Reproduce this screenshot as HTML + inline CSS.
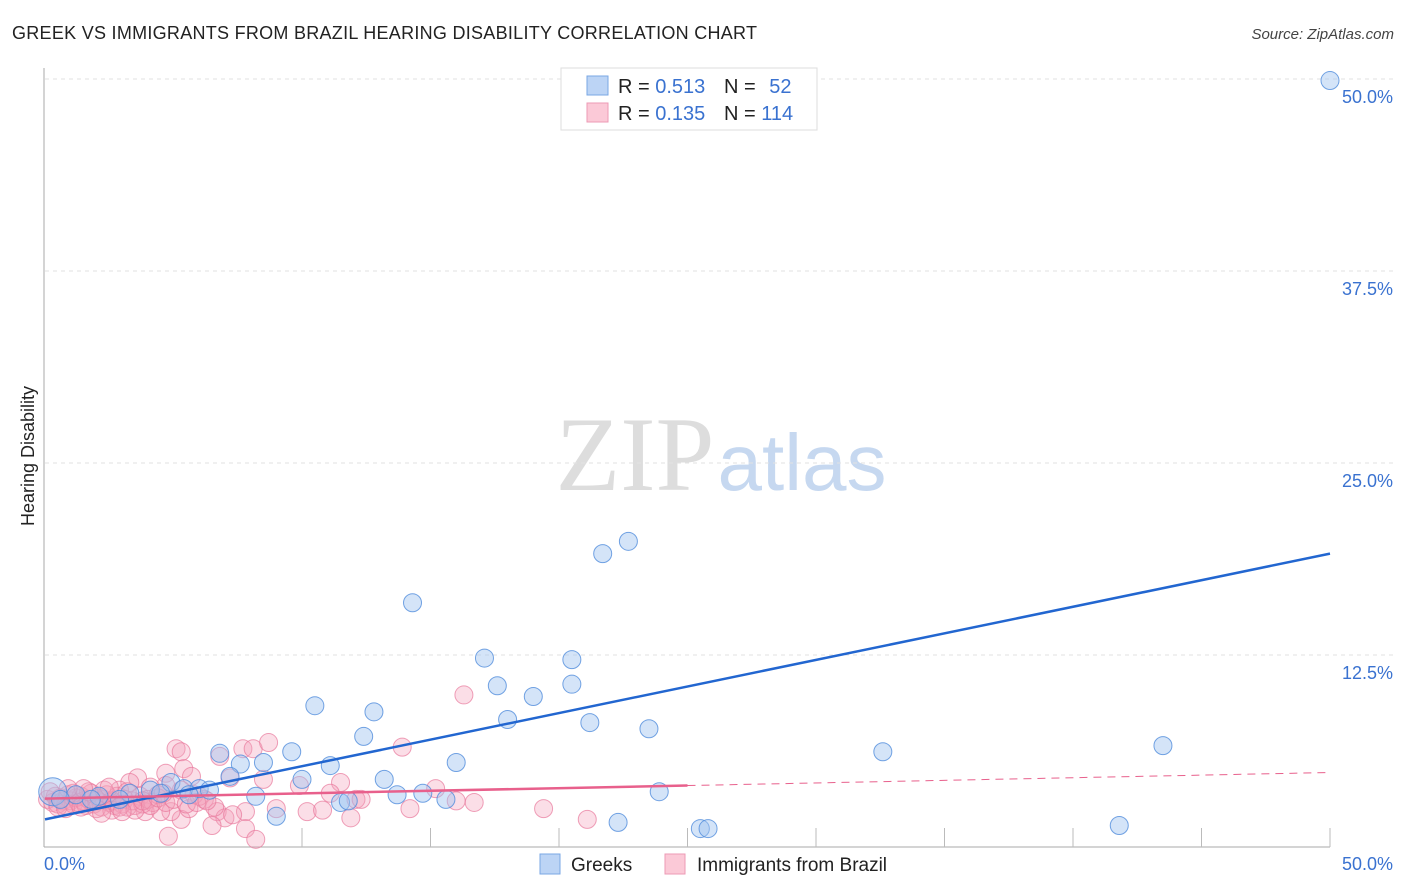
<!DOCTYPE html>
<html><head><meta charset="utf-8"><style>
body{margin:0;background:#fff;font-family:"Liberation Sans",sans-serif;}
svg{display:block}
</style></head><body>
<svg width="1406" height="892" viewBox="0 0 1406 892">
<text x="12" y="39" font-size="18" fill="#222" textLength="745">GREEK VS IMMIGRANTS FROM BRAZIL HEARING DISABILITY CORRELATION CHART</text>
<text x="1394" y="39" font-size="15" fill="#444" font-style="italic" text-anchor="end">Source: ZipAtlas.com</text>
<text x="34" y="456" font-size="18" fill="#222" text-anchor="middle" transform="rotate(-90 34 456)">Hearing Disability</text>
<g>
<text x="635" y="490" font-family="Liberation Serif,serif" font-size="106" fill="#ddd" text-anchor="middle">ZIP</text>
<text x="802" y="490" font-size="80" fill="#c6d8f0" text-anchor="middle">atlas</text>
</g>
<g id="grid"></g>
<g id="axes"></g>
<g id="pts"></g>
<g id="lines"></g>
<g>
<rect x="561" y="68" width="256" height="62" fill="#fff" stroke="#ddd"/>
<rect x="587" y="76" width="21" height="19" fill="#bcd4f5" stroke="#7aa7e4"/>
<rect x="587" y="103" width="21" height="19" fill="#fbc9d7" stroke="#ec9ab4"/>
<text x="618" y="93" font-size="20" fill="#222">R = <tspan fill="#3a72d0">0.513</tspan></text>
<text x="724" y="93" font-size="20" fill="#222">N = <tspan fill="#3a72d0" dx="8">52</tspan></text>
<text x="618" y="120" font-size="20" fill="#222">R = <tspan fill="#3a72d0">0.135</tspan></text>
<text x="724" y="120" font-size="20" fill="#222">N = <tspan fill="#3a72d0">114</tspan></text>
</g>
<g>
<rect x="540" y="854" width="20" height="20" fill="#bcd4f5" stroke="#7aa7e4"/>
<text x="571" y="871" font-size="19" fill="#222">Greeks</text>
<rect x="665" y="854" width="20" height="20" fill="#fbc9d7" stroke="#ec9ab4"/>
<text x="697" y="871" font-size="19" fill="#222">Immigrants from Brazil</text>
</g>
</svg>
<script>
const yTicks=[12.5,25,37.5,50];
const yTickLabels=["12.5%","25.0%","37.5%","50.0%"];
const xTickLabels=["0.0%","50.0%"];
const greeksX=[50,22.7,21.7,14.3,17.1,20.5,17.6,20.5,19.0,10.5,12.8,18.0,21.2,23.5,12.4,9.6,6.8,32.6,43.5,7.6,8.5,11.1,16.0,7.2,10.0,13.2,4.9,23.9,8.2,13.7,14.7,11.5,11.8,15.6,9.0,22.3,25.5,25.8,41.8,0.3,1.2,2.1,3.3,4.1,5.4,6.0,6.4,2.9,0.6,1.8,4.5,5.6];
const greeksY=[49.9,19.9,19.1,15.9,12.3,12.2,10.5,10.6,9.8,9.2,8.8,8.3,8.1,7.7,7.2,6.2,6.1,6.2,6.6,5.4,5.5,5.3,5.5,4.6,4.4,4.4,4.2,3.6,3.3,3.4,3.5,2.9,3.0,3.1,2.0,1.6,1.2,1.2,1.4,3.6,3.4,3.3,3.5,3.7,3.8,3.8,3.7,3.1,3.1,3.1,3.5,3.4];
const brazilX=[16.3,5.1,5.3,7.7,8.1,8.7,13.9,6.8,5.4,4.7,5.7,8.5,7.2,9.9,11.5,15.2,11.1,12.1,12.3,14.2,16.0,16.7,19.4,21.1,9.0,10.2,10.8,11.9,7.8,6.7,7.0,7.3,6.5,7.8,8.2,4.8,5.3,4.9,5.6,3.9,4.5,3.5,6.2,5.8,5.3,4.7,3.6,3.3,4.1,2.9,
0.1,0.3,0.4,0.5,0.6,0.7,0.8,0.9,1.0,1.1,1.2,1.3,1.4,1.5,1.6,1.7,1.8,1.9,2.0,2.1,2.2,2.3,2.4,2.5,2.6,2.7,2.8,3.0,3.1,3.2,3.4,3.7,3.8,4.0,4.2,4.4,0.2,0.5,0.8,1.1,1.4,1.7,2.0,2.3,2.6,2.9,3.2,3.5,3.8,4.1,4.4,4.7,5.0,5.5,6.0,6.6,1.5,2.5,3.0,0.9,2.2,4.6,5.9,6.3];
const brazilY=[9.9,6.4,6.2,6.4,6.4,6.8,6.5,5.9,5.1,4.8,4.6,4.4,4.5,4.0,4.2,3.8,3.5,3.1,3.1,2.5,3.0,2.9,2.5,1.8,2.5,2.3,2.4,1.9,2.3,2.3,1.9,2.1,1.4,1.2,0.5,0.7,1.8,2.3,2.5,2.3,2.3,2.7,3.1,3.4,3.7,4.0,4.5,4.2,3.9,3.7,
3.1,2.9,3.3,2.8,3.2,3.0,2.7,3.4,3.0,2.8,3.2,2.9,3.3,3.0,2.7,3.1,3.5,2.8,3.0,3.2,2.6,3.1,3.4,2.9,3.0,2.7,3.3,2.8,3.1,2.6,3.0,3.3,2.8,3.1,2.9,3.4,3.6,2.6,2.5,3.5,2.6,3.6,2.5,3.7,2.4,2.6,3.6,2.4,3.0,2.7,3.2,2.9,3.1,2.8,3.3,2.6,3.8,3.9,2.3,3.8,2.2,3.5,2.9,3.0];
const greeksFit=[1.8,0.346];
const brazilFit=[3.15,0.034];
const NS="http://www.w3.org/2000/svg";
const X0=45,X1=1330,Y0=847,PXY=192/12.5;
function sx(v){return X0+(X1-X0)*v/50;}
function sy(v){return Y0-v*PXY;}
function mk(tag,attrs,parent){const e=document.createElementNS(NS,tag);for(const k in attrs)e.setAttribute(k,attrs[k]);parent.appendChild(e);return e;}
const grid=document.getElementById('grid'),axes=document.getElementById('axes'),pts=document.getElementById('pts'),lines=document.getElementById('lines');
yTicks.forEach((t,i)=>{
 const l=mk('line',{x1:X0,x2:1395,y1:sy(t),y2:sy(t),stroke:'#e2e2e2','stroke-dasharray':'4 4'},grid);
 
 
 const tx=mk('text',{x:1393,y:sy(t)+24,'font-size':18,fill:'#3a72d0','text-anchor':'end'},axes);
 tx.textContent=yTickLabels[i];
 
 
});
const al=mk('line',{x1:44,x2:44,y1:68,y2:Y0,stroke:'#aaa'},axes);


const bl=mk('line',{x1:44,x2:1330,y1:Y0,y2:Y0,stroke:'#aaa'},axes);


for(let i=2;i<=10;i++){
 const t=mk('line',{x1:sx(i*5),x2:sx(i*5),y1:828,y2:Y0,stroke:'#bbb'},axes);
 
 
}
[[44,'start',0],[1393,'end',1]].forEach(a=>{
 const tx=mk('text',{x:a[0],y:870,'font-size':18,fill:'#3a72d0','text-anchor':a[1]},axes);
 tx.textContent=xTickLabels[a[2]];
 
 
});
brazilX.forEach((x,i)=>{
 const c=mk('circle',{cx:sx(x),cy:sy(brazilY[i]),r:9,fill:'rgba(244,160,185,0.35)',stroke:'rgba(232,120,155,0.7)','stroke-width':1},pts);
 
 
});
greeksX.forEach((x,i)=>{
 const c=mk('circle',{cx:sx(x),cy:sy(greeksY[i]),r:(i==39?14:9),fill:'rgba(160,195,240,0.45)',stroke:'rgba(80,140,220,0.8)','stroke-width':1},pts);
 
 
});
const gl=mk('line',{x1:sx(0),y1:sy(greeksFit[0]),x2:sx(50),y2:sy(greeksFit[0]+greeksFit[1]*50),stroke:'#2266d0','stroke-width':2.5},lines);


const pl=mk('line',{x1:sx(0),y1:sy(brazilFit[0]),x2:sx(25),y2:sy(brazilFit[0]+brazilFit[1]*25),stroke:'#e8608c','stroke-width':2.5},lines);


const pd=mk('line',{x1:sx(25),y1:sy(brazilFit[0]+brazilFit[1]*25),x2:sx(50),y2:sy(brazilFit[0]+brazilFit[1]*50),stroke:'#e8608c','stroke-width':1,'stroke-dasharray':'8 6'},lines);


</script>
</body></html>
